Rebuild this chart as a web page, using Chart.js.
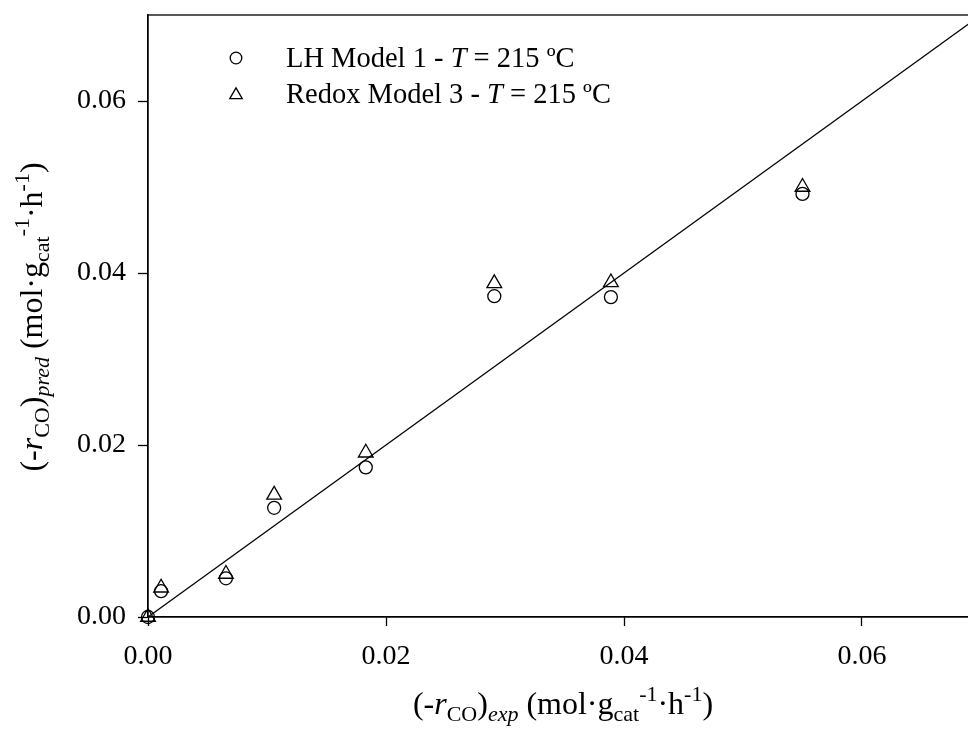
<!DOCTYPE html>
<html>
<head>
<meta charset="utf-8">
<script src="https://cdn.jsdelivr.net/npm/chart.js@4/dist/chart.umd.min.js"></script>
<style>
html,body{margin:0;padding:0;overflow:hidden;background:#fff;}
#wrap{width:1000px;height:729px;}
</style>
</head>
<body>
<div id="wrap"><canvas id="c" width="1000" height="729" style="width:1000px;height:729px"></canvas></div>
<script>
// Data
const expRate   = [0, 0.0011, 0.00655, 0.0106, 0.0183, 0.0291, 0.0389, 0.0550];
const lhPred    = [0, 0.0030, 0.0045, 0.0127, 0.0174, 0.0373, 0.0372, 0.0492];
const redoxPred = [0, 0.0034, 0.0050, 0.0142, 0.0191, 0.0388, 0.0389, 0.0500];
const parityX   = [0, 0.07];
const parityY   = [0, 0.07];
const xTicks    = [0, 0.02, 0.04, 0.06];
const yTicks    = [0, 0.02, 0.04, 0.06];
const seriesNames = ['LH Model 1 - ', 'Redox Model 3 - '];

const FONT = '"Liberation Serif", "Times New Roman", serif';
const TF = 28;            // tick font
const LF = 28.5;          // legend font
const FS = 32, SS = 22;   // title main / sub font

function pts(xs, ys){ return xs.map((x,i)=>({x:x, y:ys[i]})); }

function drawRich(ctx, segs, cx, baseline){
  let w = 0;
  segs.forEach(s=>{
    ctx.font = (s.it?'italic ':'') + (s.sz||FS) + 'px ' + FONT;
    s.w = ctx.measureText(s.t).width; w += s.w;
  });
  let x = cx - w/2;
  ctx.textAlign='left'; ctx.textBaseline='alphabetic'; ctx.fillStyle='#000';
  segs.forEach(s=>{
    ctx.font = (s.it?'italic ':'') + (s.sz||FS) + 'px ' + FONT;
    ctx.fillText(s.t, x, baseline + (s.dy||0));
    x += s.w;
  });
}
function titleSegs(sub){
  return [
    {t:'(-'}, {t:'r', it:true}, {t:'CO', sz:SS, dy:7}, {t:')'},
    {t:sub, sz:SS, dy:7, it:true}, {t:' (mol·g'},
    {t:'cat', sz:SS, dy:7}, {t:'-1', sz:SS, dy:-13}, {t:'·h'},
    {t:'-1', sz:SS, dy:-13}, {t:')'}
  ];
}

const decor = {
  id:'decor',
  afterDraw(chart){
    const ctx = chart.ctx, a = chart.chartArea;
    ctx.save();
    ctx.strokeStyle='#000'; ctx.lineWidth=1.3;
    ctx.strokeRect(a.left, a.top, a.right-a.left, a.bottom-a.top);
    // axis titles
    drawRich(ctx, titleSegs('exp'), 563, 714);
    ctx.save();
    ctx.translate(42, 317); ctx.rotate(-Math.PI/2);
    drawRich(ctx, titleSegs('pred'), 0, 0);
    ctx.restore();
    // legend
    ctx.lineWidth=1.3;
    ctx.beginPath(); ctx.arc(236, 58, 5.8, 0, Math.PI*2); ctx.stroke();
    const r=7.2, tx=236, ty=95;
    ctx.beginPath();
    for(let k=0;k<3;k++){
      const ang = k*2*Math.PI/3;
      const px = tx + Math.sin(ang)*r, py = ty - Math.cos(ang)*r;
      if(k===0) ctx.moveTo(px,py); else ctx.lineTo(px,py);
    }
    ctx.closePath(); ctx.stroke();
    const lines = [[seriesNames[0], 67],[seriesNames[1], 103]];
    lines.forEach(([name, bl])=>{
      const segs=[{t:name},{t:'T',it:true},{t:' = 215 ºC'}];
      let x=286;
      ctx.fillStyle='#000'; ctx.textAlign='left'; ctx.textBaseline='alphabetic';
      segs.forEach(s=>{
        ctx.font=(s.it?'italic ':'')+LF+'px '+FONT;
        ctx.fillText(s.t,x,bl); x+=ctx.measureText(s.t).width;
      });
    });
    ctx.restore();
  }
};

new Chart(document.getElementById('c'), {
  type:'scatter',
  data:{
    datasets:[
      {label:'parity', data:pts(parityX, parityY), showLine:true, pointRadius:0,
       borderColor:'#000', borderWidth:1.3, clip:false},
      {label:'LH Model 1', data:pts(expRate, lhPred), pointStyle:'circle', pointRadius:6.5,
       borderColor:'#000', backgroundColor:'rgba(0,0,0,0)', pointBorderWidth:1.3, clip:false},
      {label:'Redox Model 3', data:pts(expRate, redoxPred), pointStyle:'triangle', pointRadius:8.5,
       borderColor:'#000', backgroundColor:'rgba(0,0,0,0)', pointBorderWidth:1.3, clip:false}
    ]
  },
  options:{
    responsive:false, animation:false, devicePixelRatio:1,
    layout:{padding:{left:0, top:15, right:19, bottom:0}},
    plugins:{legend:{display:false}, tooltip:{enabled:false}},
    scales:{
      x:{type:'linear', min:0, max:0.07,
         afterBuildTicks(s){ s.ticks = xTicks.map(v=>({value:v})); },
         afterFit(s){ s.height = 112; s.paddingLeft = 0; s.paddingRight = 0; },
         ticks:{color:'#000', font:{family:FONT, size:TF}, padding:14, maxRotation:0,
                callback:v=>v.toFixed(2)},
         grid:{drawOnChartArea:false, drawTicks:true, tickLength:9, tickColor:'#000', tickWidth:1.3},
         border:{display:true, color:'#000', width:1.3}},
      y:{type:'linear', min:0, max:0.07,
         afterBuildTicks(s){ s.ticks = yTicks.map(v=>({value:v})); },
         afterFit(s){ s.width = 148; s.paddingTop = 0; s.paddingBottom = 0; },
         ticks:{color:'#000', font:{family:FONT, size:TF}, padding:12,
                callback:v=>v.toFixed(2)},
         grid:{drawOnChartArea:false, drawTicks:true, tickLength:10, tickColor:'#000', tickWidth:1.3},
         border:{display:true, color:'#000', width:1.3}}
    }
  },
  plugins:[decor]
});
</script>
</body>
</html>
